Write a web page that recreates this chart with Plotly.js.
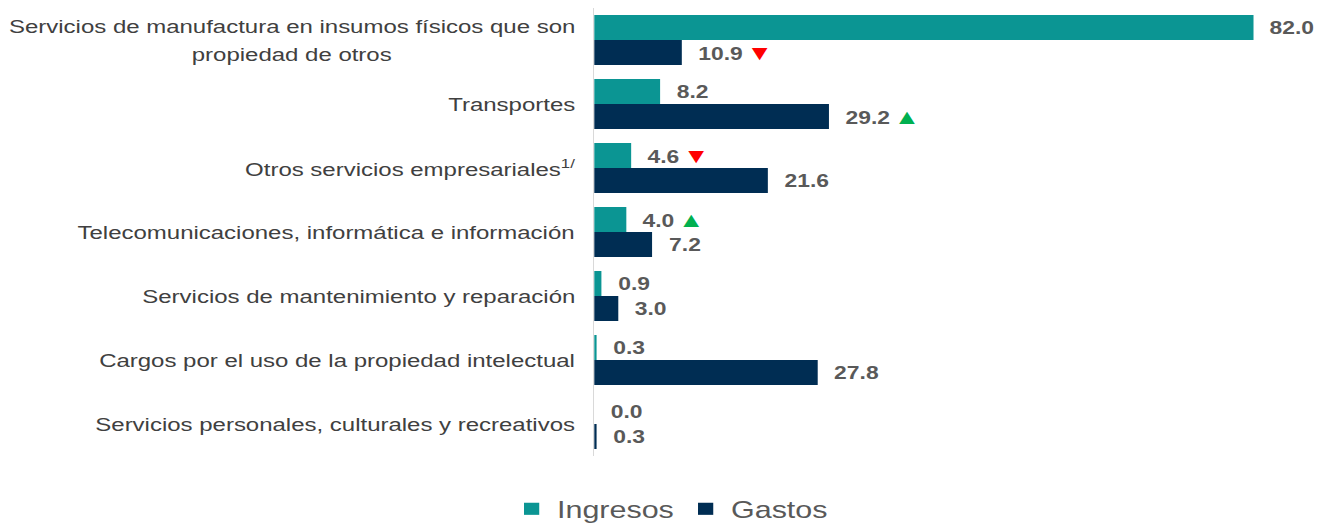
<!DOCTYPE html>
<html>
<head>
<meta charset="utf-8">
<script src="https://cdn.plot.ly/plotly-3.0.1.min.js"></script>
<style>
  html, body { margin: 0; padding: 0; background: #ffffff; overflow: hidden; }
  #wrap { width: 1046px; height: 525px; transform: scaleX(1.2696); transform-origin: 0 0; }
</style>
</head>
<body>
<div id="wrap"><div id="chart"></div></div>
<script>
// ---- data ----
const categories = [
  "Servicios de manufactura en insumos físicos que son<br>propiedad de otros",
  "Transportes",
  "Otros servicios empresariales<sup>1/</sup>",
  "Telecomunicaciones, informática e información",
  "Servicios de mantenimiento y reparación",
  "Cargos por el uso de la propiedad intelectual",
  "Servicios personales, culturales y recreativos"
];
const ingresos = [82.0, 8.2, 4.6, 4.0, 0.9, 0.3, 0.0];
const gastos   = [10.9, 29.2, 21.6, 7.2, 3.0, 27.8, 0.3];
// change markers: "down", "up" or ""
const ingresosTrend = ["", "", "down", "up", "", "", ""];
const gastosTrend   = ["down", "up", "", "", "", "", ""];

const seriesNames = ["Ingresos", "Gastos"];
const colorIng = "#0B9593";
const colorGas = "#002D53";

const ids = categories.map((c, i) => "c" + i);

function arrow(t) {
  if (t === "down") return "\u2006<span style='color:#FF0000;font-size:21px'>▼</span>";
  if (t === "up") return "\u2006<span style='color:#00B050;font-size:21px'>▲</span>";
  return "";
}

const traces = [
  { type: "bar", orientation: "h", name: seriesNames[0], y: ids, x: ingresos,
    marker: { color: colorIng }, hoverinfo: "x" },
  { type: "bar", orientation: "h", name: seriesNames[1], y: ids, x: gastos,
    marker: { color: colorGas }, hoverinfo: "x" }
];

const annotations = [];
const valFont = { family: "Liberation Sans, Arial, sans-serif", size: 18, color: "#595959", weight: 700 };
ids.forEach((id, i) => {
  annotations.push({ x: ingresos[i], y: id, xref: "x", yref: "y", xanchor: "left", yanchor: "middle",
    xshift: 11, yshift: 12.5, showarrow: false, font: valFont,
    text: ingresos[i].toFixed(1) + arrow(ingresosTrend[i]) });
  annotations.push({ x: gastos[i], y: id, xref: "x", yref: "y", xanchor: "left", yanchor: "middle",
    xshift: 11, yshift: -12.5, showarrow: false, font: valFont,
    text: gastos[i].toFixed(1) + arrow(gastosTrend[i]) });
  // category labels, one annotation per line so the line spacing can match
  const lines = categories[i].split("<br>");
  const step = 28;
  lines.forEach((ln, k) => {
    annotations.push({ x: 0, y: id, xref: "paper", yref: "y", xanchor: "right", yanchor: "middle",
      xshift: -13, yshift: ((lines.length - 1) / 2 - k) * step, showarrow: false, align: "center",
      font: { family: "Liberation Sans, Arial, sans-serif", size: 18.9, color: "#404040" },
      text: ln });
  });
});

const layout = {
  width: 1046, height: 525,
  margin: { l: 468, r: 8, t: 8, b: 69 },
  paper_bgcolor: "#ffffff", plot_bgcolor: "#ffffff",
  barmode: "group", bargap: 0.22, bargroupgap: 0,
  xaxis: { range: [0, 90], showgrid: false, zeroline: false, showline: false,
           showticklabels: false, ticks: "", fixedrange: true },
  yaxis: { autorange: "reversed", showgrid: false, zeroline: false, showline: true,
           linecolor: "#D9D9D9", linewidth: 1, showticklabels: false, ticks: "", fixedrange: true },
  showlegend: true,
  legend: { orientation: "h", xref: "container", yref: "container", x: 0.505, xanchor: "center",
            y: 0.03, yanchor: "middle",
            font: { family: "Liberation Sans, Arial, sans-serif", size: 24, color: "#595959" },
            itemwidth: 30 },
  annotations: annotations
};

Plotly.newPlot("chart", traces, layout, { displayModeBar: false, staticPlot: true }).then(() => {
  // center the second line of the multi-line label relative to the first
  const anns = layout.annotations;
  const firstLines = [];
  anns.forEach((a, idx) => { if (a.y === "c0" && a.xref === "paper") firstLines.push(idx); });
  if (firstLines.length === 2) {
    const nodes = document.querySelectorAll(".annotation");
    const w0 = nodes[firstLines[0]].querySelector("text").getBBox().width;
    const w1 = nodes[firstLines[1]].querySelector("text").getBBox().width;
    Plotly.relayout("chart", { ["annotations[" + firstLines[1] + "].xshift"]: -13 - (w0 - w1) / 2 });
  }
});
</script>
</body>
</html>
